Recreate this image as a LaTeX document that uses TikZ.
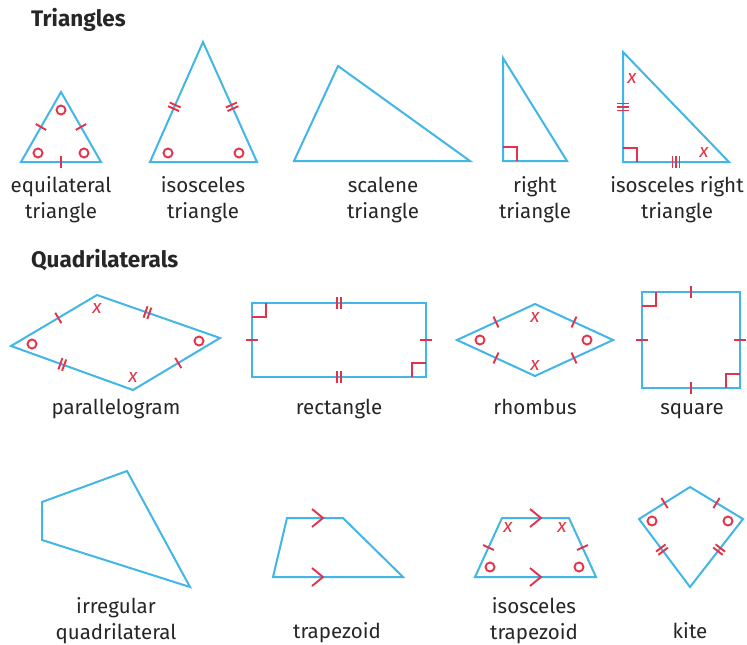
\documentclass[tikz,border=0pt]{standalone}
\usepackage{fontspec}
\setmainfont{Fira Sans}
\usetikzlibrary{calc}
\definecolor{figblue}{RGB}{66,182,230}
\definecolor{markred}{RGB}{228,50,72}
\definecolor{labgray}{RGB}{38,38,38}

% hash marks on a side: [position] from, to, offsets along the side
\newcommand{\hatch}[4][0.5]{%
  \foreach \o in {#4}
    \draw[tk] ($(#2)!#1!(#3)!\o!(#3)!6pt!90:(#3)$) -- ($(#2)!#1!(#3)!\o!(#3)!6pt!-90:(#3)$);}

\begin{document}
\begin{tikzpicture}[x=1pt, y=-1pt,
  fig/.style={draw=figblue, line width=2pt, line join=miter},
  tk/.style={draw=markred, line width=1.9pt},
  dot/.style={draw=markred, line width=1.9pt},
  lbl/.style={text=labgray, align=center, inner sep=0pt, font=\fontsize{20.5}{26}\selectfont},
  ttl/.style={text=labgray, anchor=base west, inner sep=0pt, font=\fontsize{22.5}{26}\selectfont\bfseries},
  xm/.style={text=markred, inner sep=0pt, font=\fontsize{19}{19}\selectfont\itshape}
]
  \useasboundingbox[fill=white] (0,0) rectangle (747,645);

  \node[ttl] (ttri) at (31,26) {Triangles};
  \node[ttl] (tquad) at (31,267) {Quadrilaterals};

  % equilateral
  \coordinate (e1) at (61,92); \coordinate (e2) at (21,162); \coordinate (e3) at (101,162);
  \draw[fig] (e1) -- (e2) -- (e3) -- cycle;
  \hatch{e1}{e2}{0pt} \hatch{e1}{e3}{0pt} \hatch{e2}{e3}{0pt}
  \draw[dot] (61,110) circle[radius=4.5pt] (38,153) circle[radius=4.5pt] (84,153) circle[radius=4.5pt];
  \node[lbl] (lequi) at (61,200) {equilateral\\triangle};

  % isosceles
  \coordinate (i1) at (203,42); \coordinate (i2) at (150,162); \coordinate (i3) at (257,162);
  \draw[fig] (i1) -- (i2) -- (i3) -- cycle;
  \hatch[0.54]{i1}{i2}{-2pt,2pt} \hatch[0.54]{i1}{i3}{-2pt,2pt}
  \draw[dot] (168,153) circle[radius=4.5pt] (239,153) circle[radius=4.5pt];
  \node[lbl] (liso) at (203,200) {isosceles\\triangle};

  % scalene
  \coordinate (s1) at (338,66); \coordinate (s2) at (294,161); \coordinate (s3) at (470,161);
  \draw[fig] (s1) -- (s2) -- (s3) -- cycle;
  \node[lbl] (lsca) at (383,200) {scalene\\triangle};

  % right
  \coordinate (r1) at (503,58); \coordinate (r2) at (503,161); \coordinate (r3) at (567,161);
  \draw[fig] (r1) -- (r2) -- (r3) -- cycle;
  \draw[tk] ($(r2)+(0,-14)$) -| ($(r2)+(14,0)$);
  \node[lbl] (lright) at (535,200) {right\\triangle};

  % isosceles right
  \coordinate (ir1) at (623,52); \coordinate (ir2) at (623,162); \coordinate (ir3) at (729,162);
  \draw[fig] (ir1) -- (ir2) -- (ir3) -- cycle;
  \draw[tk] ($(ir2)+(0,-14)$) -| ($(ir2)+(14,0)$);
  \hatch{ir1}{ir2}{-3.5pt,0pt,3.5pt} \hatch{ir2}{ir3}{-3.5pt,0pt,3.5pt}
  \node[xm] (x1) at (632,78) {x};
  \node[xm] (x2) at (704,152) {x};
  \node[lbl] (lisor) at (677,200) {isosceles right\\triangle};

  % parallelogram
  \coordinate (p1) at (11,346); \coordinate (p2) at (97,295); \coordinate (p3) at (220,338); \coordinate (p4) at (133,390);
  \draw[fig] (p1) -- (p2) -- (p3) -- (p4) -- cycle;
  \hatch[0.55]{p1}{p2}{0pt} \hatch[0.52]{p4}{p3}{0pt}
  \hatch[0.41]{p2}{p3}{-2pt,2pt} \hatch[0.42]{p1}{p4}{-2pt,2pt}
  \node[xm] (x3) at (97,308) {x};
  \node[xm] (x4) at (133,377) {x};
  \draw[dot] (32,344) circle[radius=4.5pt] (199,341) circle[radius=4.5pt];
  \node[lbl, anchor=base] (lpar) at (116,414) {parallelogram};

  % rectangle
  \coordinate (q1) at (252,303); \coordinate (q2) at (426,303); \coordinate (q3) at (426,377); \coordinate (q4) at (252,377);
  \draw[fig] (q1) -- (q2) -- (q3) -- (q4) -- cycle;
  \hatch{q1}{q2}{-2pt,2pt} \hatch{q4}{q3}{-2pt,2pt}
  \hatch{q1}{q4}{0pt} \hatch{q2}{q3}{0pt}
  \draw[tk] ($(q1)+(0,14)$) -| ($(q1)+(14,0)$);
  \draw[tk] ($(q3)+(0,-14)$) -| ($(q3)+(-14,0)$);
  \node[lbl, anchor=base] (lrect) at (339,414) {rectangle};

  % rhombus
  \coordinate (h1) at (457,340); \coordinate (h2) at (535,304); \coordinate (h3) at (613,340); \coordinate (h4) at (535,376);
  \draw[fig] (h1) -- (h2) -- (h3) -- (h4) -- cycle;
  \hatch{h1}{h2}{0pt} \hatch{h2}{h3}{0pt} \hatch{h3}{h4}{0pt} \hatch{h4}{h1}{0pt}
  \node[xm] (x5) at (535,317) {x};
  \node[xm] (x6) at (535,365) {x};
  \draw[dot] (480,340) circle[radius=4.5pt] (587,340) circle[radius=4.5pt];
  \node[lbl, anchor=base] (lrho) at (535,414) {rhombus};

  % square
  \coordinate (sq1) at (642,292); \coordinate (sq2) at (740,292); \coordinate (sq3) at (740,388); \coordinate (sq4) at (642,388);
  \draw[fig] (sq1) -- (sq2) -- (sq3) -- (sq4) -- cycle;
  \hatch{sq1}{sq2}{0pt} \hatch{sq2}{sq3}{0pt} \hatch{sq3}{sq4}{0pt} \hatch{sq4}{sq1}{0pt}
  \draw[tk] ($(sq1)+(0,14)$) -| ($(sq1)+(14,0)$);
  \draw[tk] ($(sq3)+(0,-14)$) -| ($(sq3)+(-14,0)$);
  \node[lbl, anchor=base] (lsq) at (692,414) {square};

  % irregular quadrilateral
  \coordinate (g1) at (42,502); \coordinate (g2) at (127,471); \coordinate (g3) at (190,587); \coordinate (g4) at (42,540);
  \draw[fig] (g1) -- (g2) -- (g3) -- (g4) -- cycle;
  \node[lbl] (lirr) at (116,621) {irregular\\quadrilateral};

  % trapezoid
  \coordinate (t1) at (287,518); \coordinate (t2) at (343,518); \coordinate (t3) at (403,577); \coordinate (t4) at (273,577);
  \draw[fig] (t1) -- (t2) -- (t3) -- (t4) -- cycle;
  \draw[tk] (312,509) -- (323,518) -- (312,527);
  \draw[tk] (312,568) -- (323,577) -- (312,586);
  \node[lbl, anchor=base] (ltrap) at (337,638) {trapezoid};

  % isosceles trapezoid
  \coordinate (it1) at (502,518); \coordinate (it2) at (569,518); \coordinate (it3) at (596,577); \coordinate (it4) at (475,577);
  \draw[fig] (it1) -- (it2) -- (it3) -- (it4) -- cycle;
  \draw[tk] (530,509) -- (541,518) -- (530,527);
  \draw[tk] (530,568) -- (541,577) -- (530,586);
  \hatch{it1}{it4}{0pt} \hatch{it2}{it3}{0pt}
  \node[xm] (x7) at (508,527) {x};
  \node[xm] (x8) at (562,527) {x};
  \draw[dot] (490,567) circle[radius=4.5pt] (579,567) circle[radius=4.5pt];
  \node[lbl] (litrap) at (534,621) {isosceles\\trapezoid};

  % kite
  \coordinate (k1) at (690,487); \coordinate (k2) at (743,519); \coordinate (k3) at (690,587); \coordinate (k4) at (639,519);
  \draw[fig] (k1) -- (k2) -- (k3) -- (k4) -- cycle;
  \hatch{k4}{k1}{0pt} \hatch{k1}{k2}{0pt}
  \hatch[0.45]{k4}{k3}{-2pt,2pt} \hatch[0.45]{k2}{k3}{-2pt,2pt}
  \draw[dot] (652,521) circle[radius=4.5pt] (728,521) circle[radius=4.5pt];
  \node[lbl, anchor=base] (lkite) at (690,638) {kite};
\end{tikzpicture}
\end{document}
